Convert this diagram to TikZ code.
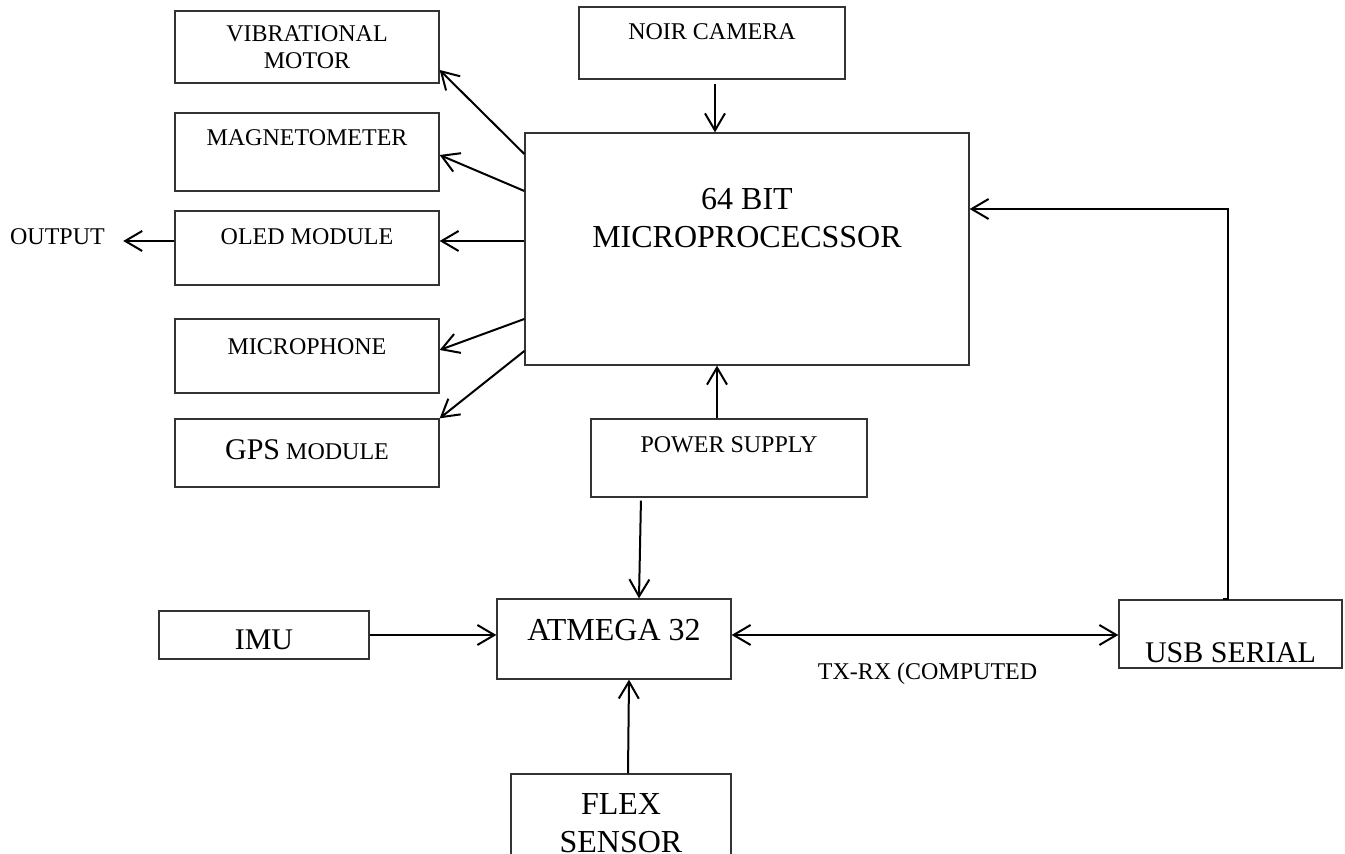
\documentclass[tikz,border=0pt]{standalone}
\usepackage{fontspec}
\setmainfont{Liberation Serif}
\usetikzlibrary{arrows.meta}

\begin{document}
\begin{tikzpicture}[x=0.5pt,y=-0.5pt,
    blk/.style={shape=rectangle,draw=black!80,line width=0.65pt,inner sep=0pt},
    lbl/.style={font=\fontsize{12}{13.5}\selectfont,align=center,inner sep=0pt,anchor=center},
    big/.style={lbl,font=\fontsize{16}{19}\selectfont},
    mid/.style={lbl,font=\fontsize{15}{18}\selectfont},
    conn/.style={line width=1pt,>={Straight Barb[length=8.5pt,width=10pt]},->}]
      \useasboundingbox (0,0) rectangle (1345,854);
      \clip (0,0) rectangle (1345,854);
      % left column
      \node[blk,minimum width=132pt,minimum height=36pt,label={[lbl]center:{VIBRATIONAL\\MOTOR}}] (vib) at (307,47) {};
      \node[blk,minimum width=132pt,minimum height=39pt,label={[lbl,yshift=7pt]center:MAGNETOMETER}] (mag) at (307,152) {};
      \node[blk,minimum width=132pt,minimum height=37pt,label={[lbl,yshift=5.5pt]center:OLED MODULE}] (oled) at (307,248) {};
      \node[blk,minimum width=132pt,minimum height=37pt,label={[lbl,yshift=4.5pt]center:MICROPHONE}] (mic) at (307,356) {};
      \node[blk,minimum width=132pt,minimum height=34pt,label={[lbl,yshift=1.5pt]center:{{\fontsize{15}{18}\selectfont GPS} MODULE}}] (gps) at (307,453) {};
      \node[lbl,inner xsep=9pt] (out) at (57.5,237) {OUTPUT};
      % middle
      \node[blk,minimum width=133pt,minimum height=36pt,label={[lbl,yshift=5.5pt]center:NOIR CAMERA}] (noir) at (712,43) {};
      \node[blk,minimum width=222pt,minimum height=116pt,label={[big,yshift=15.5pt]center:{64 BIT\\MICROPROCECSSOR}}] (micro) at (747,249) {};
      \node[blk,minimum width=138pt,minimum height=39pt,label={[lbl,yshift=6.5pt]center:POWER SUPPLY}] (power) at (729,458) {};
      % bottom row
      \node[blk,minimum width=105pt,minimum height=24pt,label={[mid,yshift=-2.5pt]center:IMU}] (imu) at (264,635) {};
      \node[blk,minimum width=117pt,minimum height=40pt,label={[big,yshift=4.5pt]center:ATMEGA 32}] (atmega) at (614,639) {};
      \node[blk,minimum width=111.5pt,minimum height=34pt,label={[mid,yshift=-9.5pt]center:USB SERIAL}] (usb) at (1230.5,634) {};
      \node[blk,minimum width=110pt,minimum height=53pt,label={[big,yshift=1.75pt]center:{FLEX\\SENSOR}}] (flex) at (621,827) {};
      \node[lbl,anchor=base] (txrx) at (927.5,680) {TX-RX (COMPUTED};
      % connectors
      \draw[conn] (micro.west |- 0,154) -- (vib.east |- 0,70);
      \draw[conn] (micro.west |- 0,191) -- (mag.east |- 0,155);
      \draw[conn] (micro.west |- 0,241) -- (oled.east |- 0,241);
      \draw[conn] (micro.west |- 0,319) -- (mic.east |- 0,350);
      \draw[conn] (micro.west |- 0,351) -- (gps.north east);
      \draw[conn] (oled.west |- 0,241) -- (out.east |- 0,241);
      \draw[conn,shorten <=2pt] (noir.south -| 715,0) -- (micro.north -| 715,0);
      \draw[conn] (power.north -| 717,0) -- (micro.south -| 717,0);
      \draw[conn,shorten <=1.5pt] (power.south -| 641,0) -- (atmega.north -| 639,0);
      \draw[conn] (imu.east) -- (atmega.west |- imu.east);
      \draw[conn,<->] (atmega.east |- 0,635) -- (usb.west |- 0,635);
      \draw[conn] (flex.north -| 628,0) -- (atmega.south -| 629,0);
      \draw[conn] (usb.north -| 1223,0) -- ++(5,0) |- (micro.east |- 0,209);
    \end{tikzpicture}
\end{document}
